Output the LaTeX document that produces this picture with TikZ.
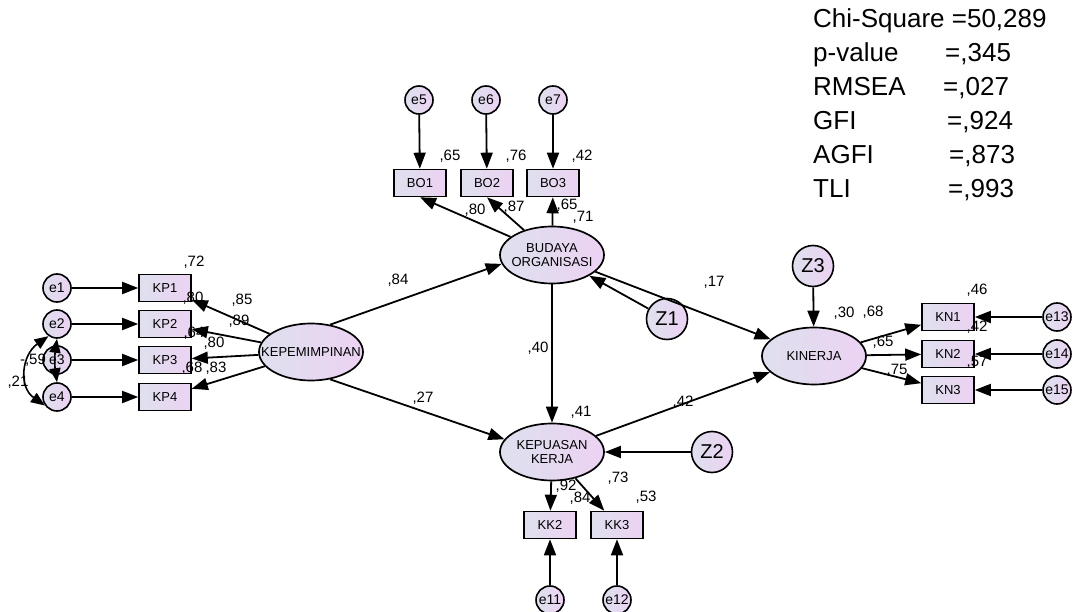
\documentclass[tikz,border=0pt]{standalone}
\usepackage{fontspec}
\setmainfont{Liberation Sans}
\usetikzlibrary{shapes.geometric,arrows.meta}
\definecolor{shadeL}{RGB}{222,224,238}
\definecolor{shadeR}{RGB}{236,210,243}
\tikzset{
  obs/.style={draw, line width=1.6pt, minimum width=52pt, minimum height=27pt, inner sep=0pt,
    left color=shadeL, right color=shadeR, font=\fontsize{13}{14}\selectfont},
  lat/.style={ellipse, draw, line width=1.7pt, minimum width=104pt, minimum height=57pt,
    inner xsep=-20pt, inner ysep=0pt, align=center, left color=shadeL, right color=shadeR,
    font=\fontsize{13}{14}\selectfont},
  err/.style={circle, draw, line width=1.6pt, minimum size=28pt, inner sep=0pt,
    left color=shadeL, right color=shadeR, font=\fontsize{14}{15}\selectfont},
  dist/.style={circle, draw, line width=1.6pt, minimum size=41pt, inner sep=0pt,
    left color=shadeL, right color=shadeR, font=\fontsize{20}{21}\selectfont},
  est/.style={inner sep=0pt, font=\fontsize{15}{16}\selectfont},
  gof/.style={inner sep=0pt, anchor=base west, font=\fontsize{26}{28}\selectfont},
  arr/.style={-{Triangle[length=16pt,width=12pt]}, line width=1.8pt},
  cov/.style={{Triangle[length=14pt,width=11pt]}-{Triangle[length=14pt,width=11pt]}, line width=1.6pt}
}
\begin{document}
\begin{tikzpicture}[x=1pt,y=1pt]
    \useasboundingbox (0,0) rectangle (1073,-612);
    % latent variables
    \node[lat] (KEP) at (311,-352) {KEPEMIMPINAN};
    \node[lat] (BO) at (552,-255) {BUDAYA\\ORGANISASI};
    \node[lat] (KK) at (552,-452) {KEPUASAN\\KERJA};
    \node[lat] (KN) at (814,-356) {KINERJA};
    \node[dist] (Z1) at (667,-319) {Z1};
    \node[dist] (Z2) at (712,-452) {Z2};
    \node[dist] (Z3) at (813,-266) {Z3};
    % indicators
    \node[obs] (KP1) at (165,-288) {KP1};
    \node[obs] (KP2) at (165,-324) {KP2};
    \node[obs] (KP3) at (165,-360) {KP3};
    \node[obs] (KP4) at (165,-397) {KP4};
    \node[obs] (BO1) at (420,-183) {BO1};
    \node[obs] (BO2) at (487,-183) {BO2};
    \node[obs] (BO3) at (553,-183) {BO3};
    \node[obs] (KK2) at (550,-525) {KK2};
    \node[obs] (KK3) at (617,-525) {KK3};
    \node[obs] (KN1) at (948,-317) {KN1};
    \node[obs] (KN2) at (948,-354) {KN2};
    \node[obs] (KN3) at (948,-390) {KN3};
    % errors
    \node[err] (e1) at (57,-288) {e1};
    \node[err] (e2) at (57,-324) {e2};
    \node[err] (e3) at (57,-360) {e3};
    \node[err] (e4) at (57,-397) {e4};
    \node[err] (e5) at (419,-100) {e5};
    \node[err] (e6) at (486,-100) {e6};
    \node[err] (e7) at (553,-100) {e7};
    \node[err] (e11) at (550,-600) {e11};
    \node[err] (e12) at (617,-600) {e12};
    \node[err] (e13) at (1057,-317) {e13};
    \node[err] (e14) at (1057,-354) {e14};
    \node[err] (e15) at (1057,-390) {e15};

    % measurement paths
    \draw[arr] (e1) -- (KP1);
    \draw[arr] (e2) -- (KP2);
    \draw[arr] (e3) -- (KP3);
    \draw[arr] (e4) -- (KP4);
    \draw[arr] (KEP) -- (KP1);
    \draw[arr] (KEP) -- (KP2);
    \draw[arr] (KEP) -- (KP3);
    \draw[arr] (KEP) -- (KP4);
    \draw[arr] (e5) -- (BO1);
    \draw[arr] (e6) -- (BO2);
    \draw[arr] (e7) -- (BO3);
    \draw[arr] (BO) -- (BO1.south);
    \draw[arr] (BO) -- (BO2.south);
    \draw[arr] (BO) -- (BO3);
    \draw[arr] (KK) -- (KK2);
    \draw[arr] (KK) -- (KK3);
    \draw[arr] (e11) -- (KK2);
    \draw[arr] (e12) -- (KK3);
    \draw[arr] (KN) -- (KN1);
    \draw[arr] (KN) -- (KN2);
    \draw[arr] (KN) -- (KN3);
    \draw[arr] (e13) -- (KN1);
    \draw[arr] (e14) -- (KN2);
    \draw[arr] (e15) -- (KN3);
    \draw[cov] (e2.235) to[out=215,in=145,looseness=1.2] (e4.215);
    \draw[cov] (e2.south) to[bend right=8] (e4.north);

    % structural paths
    \draw[arr] (KEP.55) -- (BO.190);
    \draw[arr] (KEP.-55) -- (KK.165);
    \draw[arr] (BO) -- (KK);
    \draw[arr] (BO) -- (KN);
    \draw[arr] (KK) -- (KN);
    \draw[arr] (Z1) -- (BO);
    \draw[arr] (Z2) -- (KK);
    \draw[arr] (Z3) -- (KN);

    % estimates
    \node[est] (rKP1) at (194,-262) {,72};
    \node[est] (rKP2) at (193,-298) {,80};
    \node[est] (rKP3) at (194,-333) {,64};
    \node[est] (rKP4) at (192,-368) {,68};
    \node[est] (lKP1) at (242,-300) {,85};
    \node[est] (lKP2) at (239,-321) {,89};
    \node[est] (lKP3) at (214,-343) {,80};
    \node[est] (lKP4) at (216,-368) {,83};
    \node[est] (c34) at (33,-360) {-,59};
    \node[est] (c24) at (18,-382) {,21};
    \node[est] (rBO1) at (450,-156) {,65};
    \node[est] (rBO2) at (516,-156) {,76};
    \node[est] (rBO3) at (582,-156) {,42};
    \node[est] (lBO1) at (475,-210) {,80};
    \node[est] (lBO2) at (514,-207) {,87};
    \node[est] (lBO3) at (567,-205) {,65};
    \node[est] (rBO) at (583,-217) {,71};
    \node[est] (pKEPBO) at (398,-280) {,84};
    \node[est] (pKEPKK) at (423,-398) {,27};
    \node[est] (pBOKK) at (538,-348) {,40};
    \node[est] (pBOKN) at (714,-282) {,17};
    \node[est] (pKKKN) at (683,-402) {,42};
    \node[est] (rKK) at (581,-412) {,41};
    \node[est] (lKK2) at (566,-486) {,92};
    \node[est] (rKK2) at (580,-498) {,84};
    \node[est] (lKK3) at (618,-478) {,73};
    \node[est] (rKK3) at (646,-497) {,53};
    \node[est] (rKN) at (844,-313) {,30};
    \node[est] (lKN1) at (873,-312) {,68};
    \node[est] (lKN2) at (883,-342) {,65};
    \node[est] (lKN3) at (897,-370) {,75};
    \node[est] (rKN1) at (977,-290) {,46};
    \node[est] (rKN2) at (977,-327) {,42};
    \node[est] (rKN3) at (977,-362) {,57};

    % fit statistics
    \node[gof] (chi) at (813,-28) {Chi-Square =50,289};
    \node[gof] (pv) at (813,-62) {p-value};
    \node[gof] (pvv) at (945,-62) {=,345};
    \node[gof] (rm) at (813,-96) {RMSEA};
    \node[gof] (rmv) at (943,-96) {=,027};
    \node[gof] (gfi) at (813,-130) {GFI};
    \node[gof] (gfiv) at (947,-130) {=,924};
    \node[gof] (agfi) at (813,-164) {AGFI};
    \node[gof] (agfiv) at (949,-164) {=,873};
    \node[gof] (tli) at (813,-198) {TLI};
    \node[gof] (tliv) at (948,-198) {=,993};
\end{tikzpicture}
\end{document}
